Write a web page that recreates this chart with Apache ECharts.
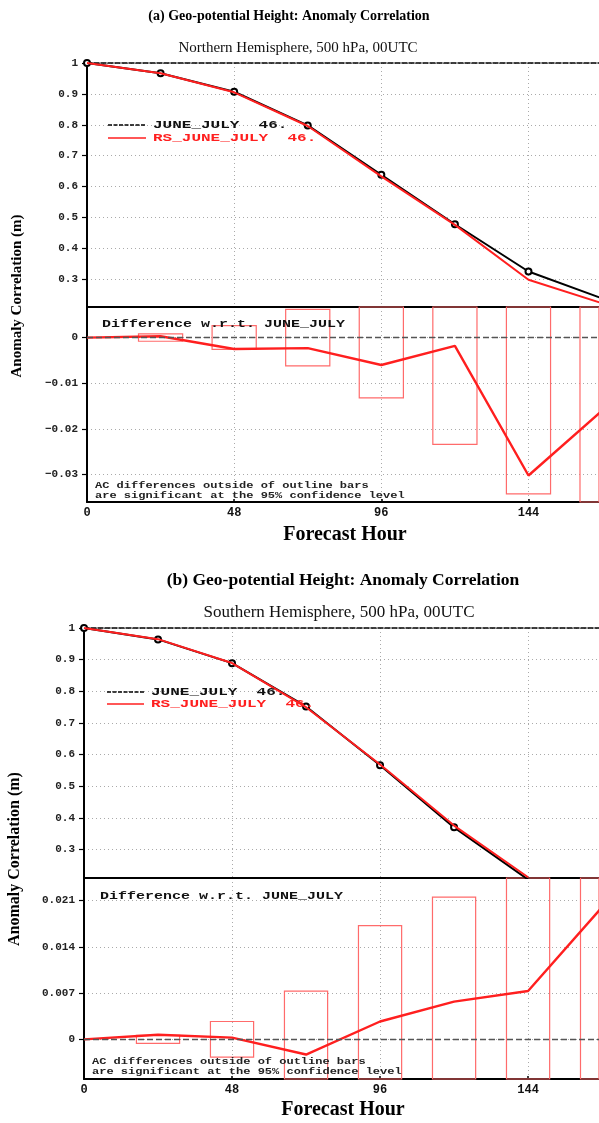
<!DOCTYPE html>
<html>
<head>
<meta charset="utf-8">
<title>Geo-potential Height: Anomaly Correlation</title>
<script src="https://cdn.jsdelivr.net/npm/echarts@6/dist/echarts.min.js"></script>
<style>
  html, body { margin: 0; padding: 0; background: #fff; }
  #chart { width: 599px; height: 1123px; }
</style>
</head>
<body>
<div id="chart"></div>
<script>
// Forecast hours of the verification
const hours = [0, 24, 48, 72, 96, 120, 144, 168];
const ciHours = [24, 48, 72, 96, 120, 144, 168];

// Northern Hemisphere 500 hPa anomaly correlation
const nhControl = [1.0, 0.967, 0.907, 0.798, 0.638, 0.478, 0.325, 0.238];
const nhRS = [1.0, 0.967, 0.905, 0.796, 0.633, 0.476, 0.298, 0.222];
const nhDiff = [0, 0.0003, -0.0025, -0.0023, -0.0060, -0.0018, -0.0302, -0.0160];
const nhCI = [0.0008, 0.0026, 0.0062, 0.0132, 0.0234, 0.0342, 0.042];

// Southern Hemisphere 500 hPa anomaly correlation
const shControl = [1.0, 0.964, 0.889, 0.752, 0.566, 0.370, 0.205];
const shRS = [1.0, 0.9647, 0.8893, 0.7497, 0.5687, 0.3757, 0.2123];
const shDiff = [0, 0.0007, 0.00026, -0.0023, 0.0027, 0.0057, 0.0073, 0.0200];
const shCI = [0.0006, 0.0027, 0.0073, 0.0172, 0.0215, 0.028, 0.034];

// Tick labels
const hourTicks = [0, 48, 96, 144];
const acTicks = [0.3, 0.4, 0.5, 0.6, 0.7, 0.8, 0.9, 1];
const nhDiffTicks = [-0.03, -0.02, -0.01, 0];
const shDiffTicks = [0, 0.007, 0.014, 0.021];

const RED = '#ff1f1f';
const BAR_RED = '#ff6b6b';
const MONO = '"Liberation Mono", "DejaVu Sans Mono", monospace';
const SERIF = '"Liberation Serif", "DejaVu Serif", serif';
const X_MAX = 167;

const pairs = (xs, ys) => ys.map((v, i) => [xs[i], v]);

const tickLabel = {
  color: '#222', fontFamily: MONO, fontWeight: 'bold', fontSize: 11, margin: 9
};

function xAxisBase(gridIndex, showLabels) {
  return {
    type: 'value', gridIndex, min: 0, max: X_MAX,
    axisLine: { show: true, onZero: false, lineStyle: { color: '#000', width: 2.2 } },
    axisTick: { show: showLabels, inside: true, length: 3, customValues: hourTicks,
                lineStyle: { color: '#000', width: 1.5 } },
    axisLabel: { show: showLabels, customValues: hourTicks,
                 color: '#111', fontFamily: MONO, fontWeight: 'bold', fontSize: 12, margin: 5 },
    splitLine: { show: true, lineStyle: { color: '#aaa', type: [1, 3], width: 1 } }
  };
}

function topBorder(gridIndex) {
  return {
    type: 'value', gridIndex, min: 0, max: X_MAX, position: 'top',
    axisLine: { show: true, lineStyle: { color: '#000', type: [5, 2], width: 1.5 } },
    axisTick: { show: false }, axisLabel: { show: false }, splitLine: { show: false }
  };
}

function yAxisBase(gridIndex, min, max, ticks, fmt) {
  return {
    type: 'value', gridIndex, min, max,
    axisLine: { show: true, lineStyle: { color: '#000', width: 2 } },
    axisTick: { show: true, length: 5, customValues: ticks, lineStyle: { color: '#000', width: 1.2 } },
    axisLabel: Object.assign({ customValues: ticks, formatter: fmt }, tickLabel),
    splitLine: { show: true, lineStyle: { color: '#aaa', type: [1, 3], width: 1 } }
  };
}

const minusFmt = v => (v < 0 ? '\u2212' + String(-v) : String(v));

function ciBars(xi, yi, halfWidth, data) {
  return {
    type: 'custom', xAxisIndex: xi, yAxisIndex: yi, z: 2, silent: true,
    data: data,
    renderItem(params, api) {
      const h = api.value(0), half = api.value(1);
      const p1 = api.coord([h - halfWidth, half]);
      const p2 = api.coord([h + halfWidth, -half]);
      const cs = params.coordSys;
      const shape = echarts.graphic.clipRectByRect(
        { x: p1[0], y: p1[1], width: p2[0] - p1[0], height: p2[1] - p1[1] },
        { x: cs.x, y: cs.y, width: cs.width, height: cs.height }
      );
      return shape && { type: 'rect', shape, style: { fill: 'none', stroke: BAR_RED, lineWidth: 1.2 } };
    }
  };
}

function diffLine(xi, yi, data) {
  return {
    type: 'line', xAxisIndex: xi, yAxisIndex: yi, z: 4, data,
    showSymbol: false, lineStyle: { color: RED, width: 2.4 },
    markLine: {
      silent: true, symbol: 'none', label: { show: false },
      lineStyle: { color: '#555', type: [6, 3], width: 1.4 },
      data: [{ yAxis: 0 }]
    }
  };
}

function controlLine(xi, yi, name, data) {
  return {
    name, type: 'line', xAxisIndex: xi, yAxisIndex: yi, z: 3, data,
    symbol: 'emptyCircle', symbolSize: 6, showAllSymbol: true,
    itemStyle: { color: '#000', borderColor: '#000', borderWidth: 1.5 },
    lineStyle: { color: '#000', width: 2 }
  };
}

function rsLine(xi, yi, name, data) {
  return {
    name, type: 'line', xAxisIndex: xi, yAxisIndex: yi, z: 4, data,
    showSymbol: false, lineStyle: { color: RED, width: 2 }
  };
}

function text(x, y, str, font, fill, opts) {
  return Object.assign({
    type: 'text', x, y, z: 100, silent: true,
    style: { text: str, font, fill, textAlign: opts && opts.align || 'left', align: opts && opts.align || 'left',
             textVerticalAlign: 'middle', verticalAlign: 'middle' }
  }, opts && opts.extra || {});
}

function legendBlock(x0, x1, y1, y2) {
  return [
    { type: 'line', z: 100, silent: true, shape: { x1: x0, y1: y1, x2: x1, y2: y1 },
      style: { stroke: '#000', lineWidth: 1.5, lineDash: [4, 1.5] } },
    { type: 'line', z: 100, silent: true, shape: { x1: x0, y1: y2, x2: x1, y2: y2 },
      style: { stroke: RED, lineWidth: 1.5 } },
    text(x1 + 7, y1, 'JUNE_JULY  46.', 'bold 16px ' + MONO, '#111', { extra: { scaleY: 0.72 } }),
    text(x1 + 7, y2, 'RS_JUNE_JULY  46.', 'bold 16px ' + MONO, RED, { extra: { scaleY: 0.72 } })
  ];
}

const graphics = [
  // panel (a)
  text(289, 16, '(a) Geo-potential Height: Anomaly Correlation', 'bold 14px ' + SERIF, '#000', { align: 'center' }),
  text(298, 48, 'Northern Hemisphere, 500 hPa, 00UTC', '15px ' + SERIF, '#111', { align: 'center' }),
  text(17, 296, 'Anomaly Correlation (m)', 'bold 15px ' + SERIF, '#000', { align: 'center', extra: { rotation: Math.PI / 2 } }),
  text(102, 324, 'Difference w.r.t. JUNE_JULY', 'bold 15px ' + MONO, '#111', { extra: { scaleY: 0.72 } }),
  text(95, 486, 'AC differences outside of outline bars', 'bold 12px ' + MONO, '#222', { extra: { scaleY: 0.75 } }),
  text(95, 496, 'are significant at the 95% confidence level', 'bold 12px ' + MONO, '#222', { extra: { scaleY: 0.75 } }),
  text(345, 535, 'Forecast Hour', 'bold 20px ' + SERIF, '#000', { align: 'center' }),
  ...legendBlock(108, 146, 125, 138),
  // panel (b)
  text(343, 580, '(b) Geo-potential Height: Anomaly Correlation', 'bold 17.5px ' + SERIF, '#000', { align: 'center' }),
  text(339, 613, 'Southern Hemisphere, 500 hPa, 00UTC', '17px ' + SERIF, '#111', { align: 'center' }),
  text(15, 859, 'Anomaly Correlation (m)', 'bold 16px ' + SERIF, '#000', { align: 'center', extra: { rotation: Math.PI / 2 } }),
  text(100, 896, 'Difference w.r.t. JUNE_JULY', 'bold 15px ' + MONO, '#111', { extra: { scaleY: 0.72 } }),
  text(92, 1062, 'AC differences outside of outline bars', 'bold 12px ' + MONO, '#222', { extra: { scaleY: 0.75 } }),
  text(92, 1072, 'are significant at the 95% confidence level', 'bold 12px ' + MONO, '#222', { extra: { scaleY: 0.75 } }),
  text(343, 1110, 'Forecast Hour', 'bold 20px ' + SERIF, '#000', { align: 'center' }),
  ...legendBlock(107, 144, 692, 704)
];

const option = {
  animation: false,
  backgroundColor: '#fff',
  grid: [
    { left: 87, top: 63, width: 512, height: 244 },
    { left: 87, top: 307, width: 512, height: 195 },
    { left: 84, top: 628, width: 515, height: 250 },
    { left: 84, top: 878, width: 515, height: 201 }
  ],
  xAxis: [
    xAxisBase(0, false), topBorder(0), xAxisBase(1, true),
    xAxisBase(2, false), topBorder(2), xAxisBase(3, true)
  ],
  yAxis: [
    yAxisBase(0, 0.21, 1, acTicks),
    yAxisBase(1, -0.036, 0.0067, nhDiffTicks, minusFmt),
    yAxisBase(2, 0.21, 1, acTicks),
    yAxisBase(3, -0.006, 0.0244, shDiffTicks, minusFmt)
  ],
  series: [
    controlLine(0, 0, 'JUNE_JULY', pairs(hours, nhControl)),
    rsLine(0, 0, 'RS_JUNE_JULY', pairs(hours, nhRS)),
    ciBars(2, 1, 7.2, pairs(ciHours, nhCI)),
    diffLine(2, 1, pairs(hours, nhDiff)),
    controlLine(3, 2, 'JUNE_JULY', pairs(hours, shControl)),
    rsLine(3, 2, 'RS_JUNE_JULY', pairs(hours, shRS)),
    ciBars(5, 3, 7.0, pairs(ciHours, shCI)),
    diffLine(5, 3, pairs(hours, shDiff))
  ],
  graphic: graphics
};

const chart = echarts.init(document.getElementById('chart'), null, { renderer: 'canvas' });
chart.setOption(option);
</script>
</body>
</html>
